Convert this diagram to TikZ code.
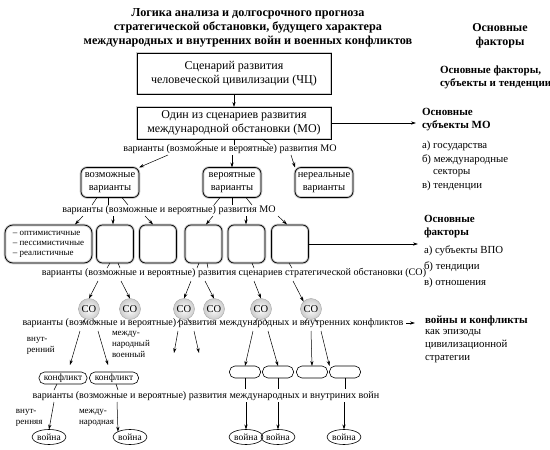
\documentclass[tikz,border=0pt]{standalone}
\usepackage{fontspec}
\setmainfont{Liberation Serif}
\usetikzlibrary{arrows.meta,shapes.geometric}
\begin{document}
\begin{tikzpicture}[x=1pt,y=-1pt,
  >={Stealth[length=5pt,width=3.2pt]},
  every node/.style={inner sep=0pt, outer sep=0pt},
  halo/.style={preaction={draw=gray!40, line width=2.6pt}},
  bigbox/.style={halo, draw, line width=0.8pt, minimum width=194, align=center, font=\fontsize{12}{14}\selectfont},
  varbox/.style={halo, draw, line width=0.7pt, rounded corners=6pt, minimum width=58, minimum height=30, align=center, font=\fontsize{10.5}{12.5}\selectfont},
  sqbox/.style={halo, draw, line width=0.7pt, rounded corners=6pt, minimum width=37, minimum height=38},
  lab/.style={font=\fontsize{10.1}{12}\selectfont},
  small/.style={anchor=west, align=left, font=\fontsize{9}{11}\selectfont},
  co/.style={circle, draw=gray!70, shading=radial, inner color=white, outer color=gray!40, minimum size=21, font=\fontsize{10.5}{12}\selectfont},
  pill/.style={draw, line width=0.6pt, rounded corners=5.5pt, minimum height=12, font=\fontsize{9.5}{11}\selectfont},
  war/.style={ellipse, draw, line width=0.6pt, minimum width=34, minimum height=15, inner sep=0pt, font=\fontsize{9.5}{11}\selectfont},
  side/.style={anchor=north west, align=left, font=\fontsize{10.8}{13}\selectfont},
  sidebold/.style={anchor=north west, align=left, font=\fontsize{11}{13.5}\selectfont\bfseries},
  ln/.style={line width=0.5pt},
  ar/.style={->, line width=0.5pt}]
\useasboundingbox (0,0) rectangle (550,450);

% title
\node[align=center, font=\fontsize{12.2}{14}\selectfont\bfseries] (title) at (248,28)
  {Логика анализа и долгосрочного прогноза\\стратегической обстановки, будущего характера\\международных и внутренних войн и военных конфликтов};
\node[align=center, font=\fontsize{12}{14}\selectfont\bfseries] (mainf) at (500,36) {Основные\\факторы};

% top boxes
\node[bigbox, minimum height=41] (b1) at (234,73.5) {Сценарий развития\\человеческой цивилизации (ЧЦ)};
\node[bigbox, minimum height=32] (b2) at (234,123) {Один из сценариев развития\\международной обстановки (МО)};
\draw[ar] (b1) -- (b2);
\node[sidebold, font=\fontsize{11}{13}\selectfont\bfseries] (rf1) at (440,66) {Основные факторы,\\субъекты и тенденции};

\node[sidebold] (rs) at (422,108) {Основные\\субъекты МО};
\node[side, font=\fontsize{10.8}{11.5}\selectfont] (rsl) at (422,141)
  {а) государства\\[3pt]б) международные\\\hspace*{11pt}секторы\\[3pt]в) тенденции};
\coordinate (a2) at (416,123);
\draw[ar] (b2.east) -- (a2);

% label 1
\node[lab] (l1) at (230,149) {варианты (возможные и вероятные) развития МО};
\draw[ln] (204,139) -- (196,144.5);
\draw[ln] (b2.south) -- (234,144.5);
\draw[ln] (262,139) -- (270,144.5);

% row 2
\node[varbox] (v1) at (110,182.5) {возможные\\варианты};
\node[varbox] (v2) at (232,182.5) {вероятные\\варианты};
\node[varbox] (v3) at (324,182.5) {нереальные\\варианты};
\draw[ar] (168,155) -- (v1.north east);
\draw[ar] (232,155) -- (v2.north);
\draw[ar] (291,155) -- (v3.north west);

% label 2
\node[lab] (l2) at (169,210) {варианты (возможные и вероятные) развития МО};
\draw[ln] (97,197.5) -- (92,205);
\draw[ln] (108,197.5) -- (108,205);
\draw[ln] (122,197.5) -- (128,205);
\draw[ln] (220,197.5) -- (214,205);
\draw[ln] (232,197.5) -- (232,205);
\draw[ln] (246,197.5) -- (252,205);

% row 3
\node[halo, draw, line width=0.7pt, rounded corners=8pt, minimum width=87, minimum height=38, align=left, font=\fontsize{9}{10}\selectfont] (ra) at (48.5,244)
  {– оптимистичные\\– пессимистичные\\– реалистичные};
\node[sqbox] (rb) at (115,244) {};
\node[sqbox] (rc) at (158,244) {};
\node[sqbox] (rd) at (203.5,244) {};
\node[sqbox] (re) at (246.5,244) {};
\node[sqbox] (rf) at (290,244) {};
\draw[ar] (83,216) -- (75,224.5);
\draw[ar] (113,216) -- (113,224.5);
\draw[ar] (145,216) -- (153,224.5);
\draw[ar] (213,216) -- (206,224.5);
\draw[ar] (246,216) -- (246,224.5);
\draw[ar] (278,216) -- (287,224.5);
\coordinate (a3) at (418,244);
\draw[ar] (rf.east) -- (a3);
\node[sidebold] (rvf) at (424,215) {Основные\\факторы};
\node[side, font=\fontsize{10.8}{16}\selectfont] (rvl) at (424,246) {а) субъекты ВПО\\б) тендиции\\в) отношения};

% label 3
\node[lab] (l3) at (234,273) {варианты (возможные и вероятные) развития сценариев стратегической обстановки (СО)};
\draw[ln] (110,263) -- (107,268);
\draw[ln] (118,263) -- (120,268);
\draw[ln] (199,263) -- (197,268);
\draw[ln] (207,263) -- (208,268);
\draw[ln] (252,263) -- (254,268);
\draw[ln] (289,263) -- (292,268);

% CO circles
\node[co] (c1) at (89,309) {СО};
\node[co] (c2) at (130,309) {СО};
\node[co] (c3) at (184,309) {СО};
\node[co] (c4) at (214,309) {СО};
\node[co] (c5) at (261,309) {СО};
\node[co] (c6) at (311,309) {СО};
\draw[ar] (98,281) -- (c1.north);
\draw[ar] (121,281) -- (c2.north);
\draw[ar] (191,281) -- (c3.north);
\draw[ar] (205,281) -- (c4.north);
\draw[ar] (254,281) -- (c5.north);
\draw[ar] (293,281) -- (c6.north west);

% label 4
\node[lab] (l4) at (213,323) {варианты (возможные и вероятные) развития международных и внутренних конфликтов};
\coordinate (a4) at (415,323);
\draw[ar] ([xshift=3pt]l4.east) -- (a4);
\node[sidebold] (rw) at (425,316) {войны и конфликты};
\node[side, font=\fontsize{10.8}{13}\selectfont] (rwl) at (425,329) {как эпизоды\\цивилизационной\\стратегии};

\foreach \c in {c1,c3,c5,c6}{
  \draw[ln] (\c.-110) -- ++(-3,4);
  \draw[ln] (\c.-70) -- ++(3,4);
}

\node[small] (t1) at (27,346) {внут-\\ренний};
\node[small] (t2) at (112,344) {между-\\народный\\военный};

% conflicts
\node[pill, minimum width=48] (k1) at (63,378) {конфликт};
\node[pill, minimum width=49] (k2) at (114,378) {конфликт};
\draw[ar] (80,331) -- (70,365);
\draw[ar] (98,331) -- (108,365);
\draw[ar] (178,331) -- (174,353);
\draw[ar] (194,331) -- (199,353);

% empty pills
\node[pill, minimum width=31] (p1) at (245,372) {};
\node[pill, minimum width=31] (p2) at (278,372) {};
\node[pill, minimum width=31] (p3) at (312,372) {};
\node[pill, minimum width=31] (p4) at (345,372) {};
\draw[ar] (253,331) -- (p1.north);
\draw[ar] (268,331) -- (p2.north);
\draw[ar] (311,331) -- (p3.north);
\draw[ar] (321,331) -- (p4.north west);

% label 5
\node[lab] (l5) at (206,396) {варианты (возможные и вероятные) развития международных и внутриних войн};
\draw[ln] (57,384) -- (54,390);
\draw[ln] (116,384) -- (118,390);
\draw[ln] (p1.south) -- (245,389);
\draw[ln] (p2.south) -- (278,389);
\draw[ln] (p4.south) -- (345,389);

\node[small] (t3) at (16,418) {внут-\\ренняя};
\node[small] (t4) at (79,418) {между-\\народная};

% wars
\node[war] (w1) at (49,437) {война};
\node[war] (w2) at (130,437) {война};
\node[war] (w3) at (246,437) {война};
\node[war] (w4) at (278,437) {война};
\node[war] (w5) at (344,437) {война};
\draw[ar] (54,402) -- (w1.north);
\draw[ar] (117,402) -- (w2.north west);
\draw[ar] (246,402) -- (w3.north);
\draw[ar] (278,402) -- (w4.north);
\draw[ar] (344,402) -- (w5.north);
\end{tikzpicture}
\end{document}
